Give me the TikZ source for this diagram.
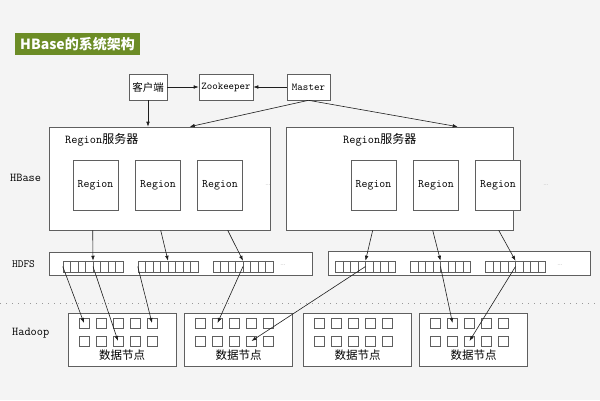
\documentclass[tikz,border=0pt]{standalone}
\usepackage{fontspec}
\newfontfamily\cjk{Noto Sans CJK SC}
\usetikzlibrary{arrows.meta,calc}
\definecolor{bg}{RGB}{244,244,244}
\definecolor{titlegreen}{RGB}{108,140,38}
\definecolor{edgec}{RGB}{95,95,95}
\definecolor{linec}{RGB}{30,30,30}
\tikzset{
  box/.style={draw=edgec, fill=white, line width=0.6pt, inner sep=0pt, anchor=center, text=black},
  arr/.style={draw=linec, line width=0.6pt, -{Latex[length=5pt,width=3.6pt]}},
  lbl/.style={font=\ttfamily\fontsize{12}{12}\selectfont, text=black, anchor=west, inner sep=0pt},
  dots/.style={font=\footnotesize, text=gray!55, inner sep=0pt},
  sq/.style={draw=edgec, fill=white, line width=0.5pt, minimum size=10pt, inner sep=0pt},
  strip/.style={draw=edgec, fill=white, line width=0.5pt, minimum width=60pt, minimum height=11pt, inner sep=0pt}
}
\begin{document}
\begin{tikzpicture}[x=1pt,y=-1pt]
\fill[bg] (0,0) rectangle (600,400);
\useasboundingbox (0,0) rectangle (600,400);

% title
\node[fill=titlegreen, text=white, font=\cjk\bfseries\fontsize{14}{14}\selectfont,
      minimum height=22pt, minimum width=125pt, inner sep=0pt] (title) at (77.5,44) {HBase的系统架构};

% top row
\node[box, minimum width=38pt, minimum height=26pt, font=\cjk\fontsize{10.5}{11}\selectfont] (client) at (148,87) {客户端};
\node[box, minimum width=54pt, minimum height=26pt, font=\ttfamily\fontsize{10.4}{11}\selectfont] (zk) at (226,87) {Zookeeper};
\node[box, minimum width=43pt, minimum height=26pt, font=\ttfamily\fontsize{10.5}{11}\selectfont] (master) at (308.5,87) {Master};

% region servers
\node[box, minimum width=221pt, minimum height=103pt] (rs1) at (159.5,178.5) {};
\node[box, minimum width=227pt, minimum height=103pt] (rs2) at (399.5,178.5) {};
\node[lbl] (rs1l) at (65,140) {Region{\cjk 服务器}};
\node[lbl] (rs2l) at (343,140) {Region{\cjk 服务器}};

\foreach \n/\x in {r1/95.5, r2/158, r3/220, r4/373.5, r5/436, r6/498}{
  \node[box, minimum width=45pt, minimum height=50pt, font=\ttfamily\fontsize{11.5}{12}\selectfont] (\n) at (\x,185) {Region};
}
\node[dots] (e1) at (268,185) {\ldots};
\node[dots] (e2) at (546,185) {\ldots};

% HDFS
\node[box, minimum width=263pt, minimum height=23pt] (h1) at (180.5,263.5) {};
\node[box, minimum width=262pt, minimum height=24pt] (h2) at (459,263) {};
\foreach \n/\x in {s1/93, s2/168, s3/243, s4/365.5, s5/440.5, s6/515.5}{
  \node[strip] (\n) at (\x,266.5) {};
  \foreach \k in {1,...,7}{
    \draw[edgec, line width=0.5pt] ([xshift=\k*7.5pt]\n.north west) -- ([xshift=\k*7.5pt]\n.south west);
  }
}
\node[dots] (e3) at (283,265) {\ldots};
\node[dots] (e4) at (560,265) {\ldots};

% labels
\node[lbl] (lhbase) at (10,178) {HBase};
\node[lbl, font=\ttfamily\fontsize{11}{12}\selectfont] (lhdfs) at (12,264) {HDFS};
\node[lbl] (lhadoop) at (12,333) {Hadoop};

% dotted separator
\draw[gray!80, line width=0.8pt, dash pattern=on 0.8pt off 5.2pt] (0,303) -- (600,303);

% data nodes
\foreach \d/\x in {1/122, 2/238.5, 3/357.5, 4/473.5}{
  \node[box, minimum width=108pt, minimum height=53pt] (dn\d) at (\x,339.5) {};
  \node[font=\cjk\fontsize{11.5}{12}\selectfont, text=black, inner sep=0pt] (dnt\d) at (\x,355) {数据节点};
  \foreach \c in {1,...,5}{
    \node[sq] (q\d-1-\c) at ({\x-54+16+17*(\c-1)},323) {};
    \node[sq] (q\d-2-\c) at ({\x-54+16+17*(\c-1)},341) {};
  }
}

% top arrows
\draw[arr] (client) -- (zk);
\draw[arr] (master) -- (zk);
\draw[arr] (client.south) -- (client.south |- rs1.north);
\draw[arr] (master.south) -- ([xshift=141pt]rs1.north west);
\draw[arr] (master.south) -- ([xshift=172pt]rs2.north west);

% region server -> HDFS
\draw[arr] ([xshift=44pt]rs1.south west) -- (s1.north);
\draw[arr] ([xshift=112pt]rs1.south west) -- (s2.north);
\draw[arr] ([xshift=179pt]rs1.south west) -- (s3.north);
\draw[arr] ([xshift=87pt]rs2.south west) -- (s4.north);
\draw[arr] ([xshift=147pt]rs2.south west) -- (s5.north);
\draw[arr] ([xshift=213pt]rs2.south west) -- (s6.north);

% HDFS -> data nodes
\draw[arr] (s1.west) -- (q1-1-1.center);
\draw[arr] (s1.center) -- (q1-2-3.center);
\draw[arr] (s2.west) -- (q1-1-5.center);
\draw[arr] (s3.center) -- (q2-1-2.center);
\draw[arr] (s4.center) -- (q2-2-4.center);
\draw[arr] (s5.center) -- (q4-1-2.center);
\draw[arr] (s6.center) -- (q4-2-3.center);
\end{tikzpicture}
\end{document}
